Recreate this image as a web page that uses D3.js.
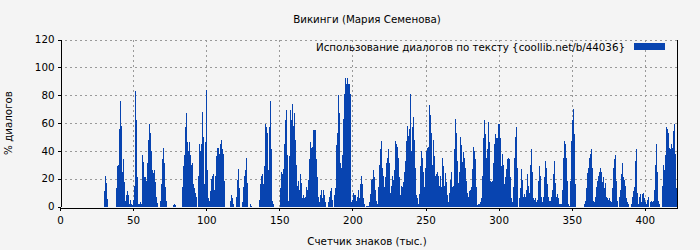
<!doctype html>
<html lang="ru">
<head>
  <meta charset="utf-8">
  <title>Викинги (Мария Семенова)</title>
  <style>
    body { margin: 0; background: #f4f4f4; }
    svg { display: block; font-family: "DejaVu Sans", sans-serif; font-size: 10.3px; }
    .grid line { stroke: #999; stroke-dasharray: 2,3; shape-rendering: crispEdges; }
    .axis path, .axis line { stroke: #000; shape-rendering: crispEdges; }
    .axis text { fill: #000; font-size: 10.3px; font-family: "DejaVu Sans", sans-serif; }
    .bar { fill: #0844b0; shape-rendering: crispEdges; }
  </style>
</head>
<body>
<div id="chart"></div>
<script src="https://cdn.jsdelivr.net/npm/d3@7"></script>
<script>
var title = "Викинги (Мария Семенова)";
var xLabel = "Счетчик знаков (тыс.)";
var yLabel = "% диалогов";
var legendLabel = "Использование диалогов по тексту {coollib.net/b/44036}";

var xTicks = [0, 50, 100, 150, 200, 250, 300, 350, 400];
var yTicks = [0, 20, 40, 60, 80, 100, 120];

// position of first sample and step between samples, thousand chars
var startK = 30.1;
var stepK = 0.684;

// share of dialogue, %, one value per sample
var dialog = [
  11, 22, 17, 5.5, 0, 0, 0, 0, 0, 0, 0, 0,
  13, 29, 30, 56, 76, 58, 25, 34, 17.5, 4, 8, 11, 8, 2, 5, 2, 1, 5, 15, 83, 62, 21, 2, 2, 3, 2, 37, 32, 21, 21, 18, 31, 48, 59,
  53, 40, 26, 24, 26, 17.5, 7, 2.5, 0, 0, 4, 16, 34, 42, 31, 14, 4, 0, 0, 0, 0, 0, 0, 1, 2, 1, 0, 0, 0, 0, 0, 0, 14, 29, 37, 57, 67, 46, 40, 46, 37, 30, 31, 16, 13, 10, 7, 0, 22, 45,
  40, 45, 68, 50, 16, 46, 84, 26, 6, 4, 11, 20, 22, 23, 11.5, 22, 36, 42, 42, 38, 45, 48, 41, 38, 18, 0, 0, 0, 0, 0, 4, 8, 6, 1.5, 0, 0, 7, 19, 27, 13, 0, 0, 3, 14, 22, 26, 35, 17, 0, 0,
  1.5, 0.5, 0, 0, 0, 0, 0, 0, 0, 5, 16, 22, 23, 16, 29, 59, 57, 53, 26, 57, 76, 41, 4, 1.5, 0, 0, 0, 0, 0, 0, 13, 25, 23, 27, 45, 62, 69, 37, 3.6, 36, 69, 62, 74, 58, 67, 48, 30, 15, 18, 11.5,
  23, 17, 6, 8, 6, 7, 14, 12, 19, 34, 46, 42, 43, 55, 55, 55, 34, 21, 7, 3, 8, 11.5, 6, 11.5, 8, 3, 0, 0, 3, 7, 11, 13, 5, 0, 8, 13, 44, 53, 80, 67, 31, 28, 37, 63, 81, 92, 88, 92, 88, 88,
  81, 3, 5, 10, 8, 8, 4, 7, 12, 6, 16, 22, 16, 6, 2, 0, 0.5, 0.5, 0.5, 3, 9, 19, 20, 26, 21, 11.5, 4, 1.5, 14, 30, 41, 47, 28, 22, 14, 21, 31, 35, 41, 31, 10, 15, 22, 19, 26, 47, 45, 43, 35, 21,
  8, 15, 14, 17.5, 25, 33, 47, 58, 51, 56, 81, 40, 57, 64, 48, 28, 8, 6, 1.5, 9, 29, 40, 35, 25, 14, 28, 40, 42, 43, 73, 66, 53, 30, 48, 36, 22, 23, 25, 22, 15, 22, 14, 35, 29, 15, 24, 17.5, 8, 3, 10,
  19, 25, 14, 15, 41, 63, 53, 33, 17, 25, 50, 44, 32, 39, 35, 28, 18, 10, 7, 11, 12, 14, 27, 43, 40, 34, 14, 1, 1.5, 2, 3, 6, 22, 49, 62, 52, 35, 41, 61, 46, 18, 17.5, 18, 31, 45, 52, 49, 49, 59, 59,
  49, 29, 38, 30, 16, 21, 27, 34, 35, 34, 21, 6, 3, 14, 35, 50, 57, 28, 0, 6, 13, 27, 19, 7, 9, 7, 11.5, 23, 15, 10, 30, 41, 25, 6, 5, 6, 3, 5, 18, 29, 22, 7, 3, 7, 21, 33, 28, 16, 7, 4,
  4, 7, 11.5, 23, 33, 17, 7, 9, 6, 1.5, 1.5, 2, 11.5, 35, 47, 45, 35, 18, 2, 0.5, 18, 47, 62, 70, 52, 16, 0, 0, 0, 0, 0, 0, 0, 0, 1.5, 4, 13, 24, 28, 35, 38, 41, 28, 4, 3, 7, 14, 18, 22, 25,
  28, 25, 17.5, 21, 13, 17, 7, 6, 5, 6, 4, 3, 13, 28, 34, 37, 18, 4, 0, 7, 12, 23, 31, 21, 19, 15, 6, 3, 1.5, 0, 0, 2, 7, 11, 14, 33, 41, 10, 2, 7, 9, 3, 9, 10, 6, 3, 2, 5, 7, 0,
  3, 4, 3, 4, 12, 30, 45, 25, 4, 1.5, 0, 0, 15, 30, 26, 37, 57, 56, 53, 42, 41, 45, 42, 54, 59, 38, 13
];

(function() {
  var width = 700, height = 250;
  var left = 60, right = 677, top = 39.5, bottom = 206.5;

  var svg = d3.select("#chart").append("svg")
      .attr("width", width)
      .attr("height", height);

  svg.append("rect").attr("width", width).attr("height", height).attr("fill", "#f4f4f4");

  var x = d3.scaleLinear().domain([0, 422]).range([left, right]);
  var y = d3.scaleLinear().domain([0, 120]).range([bottom, top]);

  // grid
  var grid = svg.append("g").attr("class", "grid");
  grid.selectAll("line.h").data(yTicks.slice(1)).enter().append("line")
      .attr("class", "h")
      .attr("x1", left).attr("x2", right)
      .attr("y1", function(d) { return Math.round(y(d)) + 0.5; })
      .attr("y2", function(d) { return Math.round(y(d)) + 0.5; });
  grid.selectAll("line.v").data(xTicks.slice(1)).enter().append("line")
      .attr("class", "v")
      .attr("y1", top).attr("y2", bottom)
      .attr("x1", function(d) { return Math.round(x(d)) + 0.5; })
      .attr("x2", function(d) { return Math.round(x(d)) + 0.5; });

  // bars
  svg.append("g").selectAll("rect").data(dialog).enter().append("rect")
      .attr("class", "bar")
      .attr("x", function(d, i) { return Math.round(x(startK + i * stepK)); })
      .attr("width", function(d, i) {
        return Math.max(1, Math.round(x(startK + (i + 1) * stepK)) - Math.round(x(startK + i * stepK)));
      })
      .attr("y", function(d) { return y(d); })
      .attr("height", function(d) { return y(0) - y(d); });

  // axes
  svg.append("g").attr("class", "axis")
      .attr("transform", "translate(0," + (Math.round(bottom) + 0.5) + ")")
      .call(d3.axisBottom(x).tickValues(xTicks).tickSize(3).tickSizeOuter(0).tickPadding(6));
  svg.append("g").attr("class", "axis")
      .attr("transform", "translate(" + (left + 0.5) + ",0)")
      .call(d3.axisLeft(y).tickValues(yTicks).tickSize(3).tickSizeOuter(0).tickPadding(3));
  svg.append("line")
      .attr("x1", right + 0.5).attr("x2", right + 0.5)
      .attr("y1", top).attr("y2", Math.round(bottom) + 0.5)
      .attr("stroke", "#000").style("shape-rendering", "crispEdges");

  // titles
  svg.append("text").attr("x", 367).attr("y", 23).attr("text-anchor", "middle").text(title);
  svg.append("text").attr("x", 367).attr("y", 245).attr("text-anchor", "middle").text(xLabel);
  svg.append("text").attr("transform", "translate(12,123)rotate(-90)")
      .attr("text-anchor", "middle").text(yLabel);

  // legend
  svg.append("text").attr("x", 625).attr("y", 51).attr("text-anchor", "end").text(legendLabel);
  svg.append("rect").attr("class", "bar")
      .attr("x", 634).attr("y", 43).attr("width", 31).attr("height", 7);
})();
</script>
</body>
</html>
